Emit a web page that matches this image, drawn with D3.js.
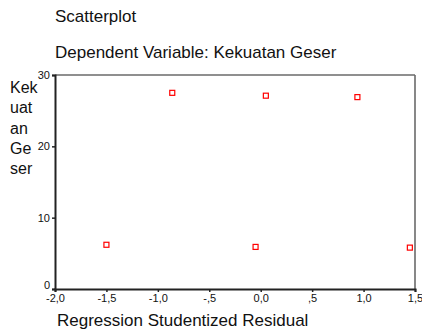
<!DOCTYPE html>
<html><head><meta charset="utf-8">
<script src="https://cdn.jsdelivr.net/npm/d3@7"></script>
<style>body{margin:0;background:#fff}svg{display:block}text{font-family:Arial,"Liberation Sans",sans-serif;fill:#111}</style>
</head><body>
<script>
const residuals = [-1.50, -0.86, 0.05, 0.94, -0.05, 1.45];
const kekuatan = [6.2, 27.5, 27.1, 26.9, 5.9, 5.8];
const xTicks = [-2.0, -1.5, -1.0, -0.5, 0.0, 0.5, 1.0, 1.5];
const xTickLabels = ["-2,0", "-1,5", "-1,0", "-,5", "0,0", ",5", "1,0", "1,5"];
const yTicks = [0, 10, 20, 30];
const yLabelLines = ["Kek", "uat", "an", "Ge", "ser"];

const W = 422, H = 331;
const svg = d3.select("body").append("svg").attr("width", W).attr("height", H);
const x = d3.scaleLinear().domain([-2, 1.5]).range([55, 415]);
const y = d3.scaleLinear().domain([0, 30]).range([289, 75]);

svg.append("text").attr("x", 55).attr("y", 22).attr("font-size", 17).text("Scatterplot");
svg.append("text").attr("x", 55).attr("y", 58).attr("font-size", 17).text("Dependent Variable: Kekuatan Geser");

// frame top/right
svg.append("line").attr("x1", x(-2)).attr("x2", x(1.5)).attr("y1", y(30)).attr("y2", y(30)).attr("stroke", "#6a6a6a").attr("stroke-width", 1.6);
svg.append("line").attr("x1", x(1.5)).attr("x2", x(1.5)).attr("y1", y(30)).attr("y2", y(0)).attr("stroke", "#6a6a6a").attr("stroke-width", 1.6);

const xAxis = d3.axisBottom(x).tickValues(xTicks).tickSize(3).tickPadding(2)
  .tickFormat((d, i) => xTickLabels[i]);
const gx = svg.append("g").attr("transform", `translate(0,${y(0)})`).call(xAxis);
gx.select(".domain").attr("stroke", "#222").attr("stroke-width", 2);
gx.selectAll(".tick line").attr("stroke", "#222").attr("stroke-width", 1.5);
gx.selectAll(".tick text").attr("font-size", 11).attr("font-family", "Arial, 'Liberation Sans', sans-serif").attr("fill", "#111");

const yAxis = d3.axisLeft(y).tickValues(yTicks).tickSize(3).tickPadding(2);
const gy = svg.append("g").attr("transform", `translate(${x(-2)},0)`).call(yAxis);
gy.select(".domain").attr("stroke", "#222").attr("stroke-width", 2);
gy.selectAll(".tick line").attr("stroke", "#222").attr("stroke-width", 1.5);
gy.selectAll(".tick text").attr("font-size", 11).attr("font-family", "Arial, 'Liberation Sans', sans-serif").attr("fill", "#111")
  .attr("y", d => d === 0 ? -4 : 0);

svg.append("g").selectAll("text").data(yLabelLines).join("text")
  .attr("x", 10).attr("y", (d, i) => 93 + i * 20.3).attr("font-size", 16).text(d => d);

svg.append("g").selectAll("rect").data(residuals).join("rect")
  .attr("x", (d) => x(d) - 2.5).attr("y", (d, i) => y(kekuatan[i]) - 2.5)
  .attr("width", 5).attr("height", 5)
  .attr("fill", "none").attr("stroke", "#ff0000").attr("stroke-width", 1.2);

svg.append("text").attr("x", 57).attr("y", 326).attr("font-size", 17).text("Regression Studentized Residual");
</script>
</body></html>
